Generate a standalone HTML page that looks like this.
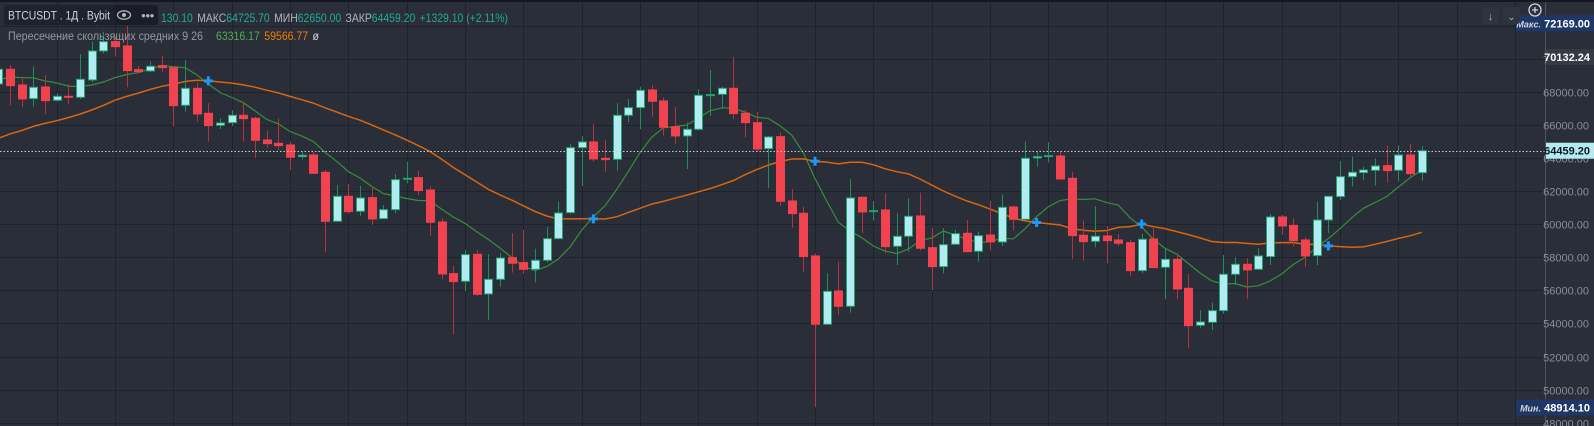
<!DOCTYPE html>
<html><head><meta charset="utf-8"><style>
html,body{margin:0;padding:0;background:#2a2e39;overflow:hidden}
svg{display:block}
text{font-family:"Liberation Sans","DejaVu Sans",sans-serif}
</style></head><body>
<svg id="chart" width="1594" height="426" xmlns="http://www.w3.org/2000/svg">
<rect x="0" y="0" width="1594" height="426" fill="#2a2e39"/>
<g id="grid"></g>
<g id="mas"></g>
<g id="candles"></g>
<g id="crosses"></g>
<line id="lastline" x1="0" x2="1545" stroke="#c8cbd3" stroke-width="1" stroke-dasharray="1.5,2"/>
<rect x="0" y="0" width="1594" height="2" fill="#131722"/>
<rect x="1545" y="2" width="49" height="424" fill="#2a2e39"/>
<line x1="1545.5" x2="1545.5" y1="2" y2="426" stroke="#50535e" stroke-width="1"/>
<g id="ticks"></g>
<g id="badges"></g>
<g>
  <rect x="4" y="5" width="154" height="20" rx="3" fill="#1e222d"/>
  <rect x="114" y="5" width="44" height="20" rx="3" fill="#1a1d27"/>
  <text x="8" y="19.5" font-size="11.5" fill="#d1d4dc" textLength="102" lengthAdjust="spacingAndGlyphs">BTCUSDT . 1Д . Bybit</text>
  <g transform="translate(124,15)">
    <ellipse cx="0" cy="0" rx="6.5" ry="4.2" fill="none" stroke="#b2b5be" stroke-width="1.3"/>
    <circle cx="0" cy="0" r="2" fill="#b2b5be"/>
  </g>
  <text x="141" y="18" font-size="8" fill="#b2b5be" letter-spacing="-0.5">●●●</text>
  <text x="161" y="22" font-size="12" textLength="347" lengthAdjust="spacingAndGlyphs"><tspan fill="#22ab94">130.10</tspan><tspan fill="#b2b5be" dx="5">МАКС</tspan><tspan fill="#22ab94">64725.70</tspan><tspan fill="#b2b5be" dx="5">МИН</tspan><tspan fill="#22ab94">62650.00</tspan><tspan fill="#b2b5be" dx="5">ЗАКР</tspan><tspan fill="#22ab94">64459.20</tspan><tspan fill="#22ab94" dx="5">+1329.10 (+2.11%)</tspan></text>
  <text x="8" y="40" font-size="12" fill="#9598a1" textLength="195" lengthAdjust="spacingAndGlyphs">Пересечение скользящих средних 9 26</text>
  <text x="216" y="40" font-size="12" textLength="103" lengthAdjust="spacingAndGlyphs"><tspan fill="#4caf50">63316.17</tspan><tspan fill="#f57c00" dx="5">59566.77</tspan><tspan fill="#d1d4dc" dx="5">ø</tspan></text>
</g>
<g>
  <rect x="1482" y="7" width="17" height="17" rx="3" fill="#2f333e"/>
  <text x="1490.5" y="20" font-size="11" fill="#b2b5be" text-anchor="middle">↓</text>
  <rect x="1503" y="7" width="17" height="17" rx="3" fill="#2f333e"/>
  <text x="1511.5" y="20" font-size="10" fill="#b2b5be" text-anchor="middle">⌄</text>
  <circle cx="1535" cy="10" r="6" fill="none" stroke="#d1d4dc" stroke-width="1.3"/>
  <path d="M1535 7v6M1532 10h6" stroke="#d1d4dc" stroke-width="1.3"/>
</g>
</svg>
<script>
const history = [61500,62200,61800,62800,63500,62900,63200,64100,63800,62600,63300,64000,63900,64500,63700,64200,64820,66800,67900,68400,69200,68800,69500,69100,69580];
const opens = [68501,69389,68440,67613,68319,67512,67754,67693,68743,70498,71063,70801,69368,69288,69611,69489,67209,68238,66725,65998,66160,66604,66422,65110,64909,64808,64101,64202,63153,60186,61700,60792,61619,60348,60893,62729,62830,62083,60146,57018,56554,58189,55787,56675,57987,57684,57280,57825,59137,60711,64646,64989,64000,63940,66604,67068,68137,67471,65918,65353,65756,67815,67875,68238,66725,66160,64585,65312,61417,60671,58088,53951,55969,55040,61639,60772,60873,58673,59279,60509,58592,57442,58794,59460,58370,59359,58935,61054,60307,64021,64101,64142,62790,59339,58975,59299,59056,58895,57200,59117,57402,57886,56130,53890,54072,54778,56978,57583,57280,58047,60449,59944,59056,58108,60267,61680,62890,63133,63274,63557,63274,64202,63130];
const highs = [69550,69651,68945,69550,69046,67936,68481,70317,71063,71669,71366,72012,69590,69853,70196,69590,69954,68541,67330,66422,66927,67330,66523,65675,66422,65009,64404,64404,63294,62386,62447,62326,62184,61175,63052,63799,63234,62285,60368,57482,58451,58451,58209,58249,59460,59662,58532,59843,61377,64868,65353,66079,65110,67330,67593,68339,68440,67673,67088,66160,68178,69348,68339,70115,66927,66826,65353,65554,62144,61074,58249,57038,57745,62729,61679,61417,61882,60671,61579,61922,59803,59763,59662,60267,59561,61417,61821,61115,65009,64404,64969,64404,63193,60227,61115,59904,59420,59056,59420,59763,58552,58249,56998,54819,55262,58148,58007,57946,58552,60630,60570,60368,59218,61377,61720,63839,64101,63496,64000,64767,64767,64868,64726];
const lows = [68440,67229,67088,67128,66664,67431,67270,67593,68602,70357,70155,68299,69146,69207,69207,65918,66826,66220,65009,65776,65958,65009,64000,64646,64505,63294,63940,63050,58310,60166,60630,60509,59965,60328,60671,62487,61781,59319,56695,53346,55969,55666,54213,56231,57079,56998,56473,57684,59097,60630,62326,63799,63193,63254,66180,65756,66523,65373,64868,63355,65675,66563,67028,66362,65272,64465,62184,61135,59803,57139,48926,53911,54516,54657,59460,60227,58249,57543,58350,58411,56030,57038,58754,58310,57745,58411,58693,59622,60267,63496,63738,62700,57886,57805,58612,57644,58693,56877,57038,57341,55464,55464,52498,53709,53608,54576,56332,55484,57240,57543,59359,58653,57442,57543,59460,61478,62285,62689,62346,62527,62588,62890,62650];
const closes = [69389,68400,67593,68299,67492,67754,67714,68783,70498,71063,70761,69308,69247,69570,69489,67189,68238,66684,65978,66139,66604,66402,65090,64888,64767,64061,64182,63092,60186,61700,60772,61599,60328,60893,62709,62790,62043,60126,56998,56534,58169,55767,56675,57967,57644,57280,57825,59137,60691,64646,64989,63960,63920,66604,67068,68117,67451,65877,65353,65756,67815,67855,68238,66705,66160,64565,65292,61397,60651,58047,53951,55949,55040,61599,60752,60832,58653,59279,60489,58552,57442,58774,59440,58350,59319,58935,61034,60307,64000,64101,64162,62749,59319,58955,59279,59016,58855,57200,59097,57382,57886,56090,53870,54092,54778,56978,57583,57240,58088,60449,59904,59016,58088,60267,61700,62890,63153,63294,63536,63254,64202,63072,64459.2];
const tickLabels = ["72000.00","70000.00","68000.00","66000.00","64000.00","62000.00","60000.00","58000.00","56000.00","54000.00","52000.00","50000.00","48000.00"];
const tickValues = [72000,70000,68000,66000,64000,62000,60000,58000,56000,54000,52000,50000,48000];
const badgeValues = [72169.00,70132.24,64459.20,48914.10];
const badgeLabels = ["72169.00","70132.24","64459.20","48914.10"];
const badgeTags = ["Макс.","","","Мин."];

const NS="http://www.w3.org/2000/svg";
const X0=-1.67, STEP=11.667, PLOT_R=1545;
const xAt=i=>X0+STEP*i;
const yAt=p=>158.3+(64000-p)*0.016517;
function mk(tag,attrs,parent){const e=document.createElementNS(NS,tag);for(const k in attrs)e.setAttribute(k,attrs[k]);parent.appendChild(e);return e;}
const grid=document.getElementById('grid');
for(let k=0;k<27;k++){
  const x=Math.round(xAt(5)+STEP*5*(k-1))+0.5;
  if(x<0||x>PLOT_R)continue;
  const l=mk('line',{x1:x,x2:x,y1:2,y2:426,stroke:'#1e222d','stroke-width':1},grid);
  
  
}
const ticks=document.getElementById('ticks');
tickValues.forEach((v,i)=>{
  const y=Math.round(yAt(v))+0.5;
  const l=mk('line',{x1:0,x2:PLOT_R,y1:y,y2:y,stroke:'#1e222d','stroke-width':1},grid);
  
  
  const t=mk('text',{x:1589,y:y+4,'font-size':'11','text-anchor':'end',fill:'#8a8d96'},ticks);
  t.textContent=tickLabels[i];
  
  
});
const all=history.concat(closes);
const H=history.length;
function sma(n,i){let s=0;for(let k=i-n+1;k<=i;k++)s+=all[k];return s/n;}
const ma9=[],ma26=[];
for(let i=0;i<closes.length;i++){ma9.push(sma(9,H+i));ma26.push(sma(26,H+i));}
const mas=document.getElementById('mas');
const p9=mk('polyline',{points:ma9.map((v,i)=>xAt(i).toFixed(1)+','+yAt(v).toFixed(1)).join(' '),fill:'none',stroke:'#388e3c','stroke-width':1.2},mas);


const p26=mk('polyline',{points:ma26.map((v,i)=>xAt(i).toFixed(1)+','+yAt(v).toFixed(1)).join(' '),fill:'none',stroke:'#d9650f','stroke-width':1.5},mas);


const cg=document.getElementById('candles');
closes.forEach((c,i)=>{
  const o=opens[i],h=highs[i],l=lows[i],up=c>=o;
  const x=xAt(i), cx=Math.round(x)+0.5;
  const g=mk('g',{},cg);
  
  
  mk('line',{x1:cx,x2:cx,y1:yAt(h),y2:yAt(l),stroke:up?'#1f8f5a':'#b5343c','stroke-width':1},g);
  const top=yAt(Math.max(o,c)),bot=yAt(Math.min(o,c));
  mk('rect',{x:cx-4,y:top,width:8,height:Math.max(1,bot-top),fill:up?'#b2ebf2':'#f0434f',stroke:up?'#1fa572':'#f0434f','stroke-width':1},g);
});
const cr=document.getElementById('crosses');
for(let i=1;i<closes.length;i++){
  const a=ma9[i-1]-ma26[i-1],b=ma9[i]-ma26[i];
  if((a<0)!==(b<0)){
    const x=xAt(i),y=yAt(ma26[i]);
    const p=mk('path',{d:`M${x-4.5} ${y}h9M${x} ${y-4.5}v9`,stroke:'#2196f3','stroke-width':3},cr);
    
    
  }
}
const ll=document.getElementById('lastline');
const ly=Math.round(yAt(closes[closes.length-1]))+0.5;
ll.setAttribute('y1',ly);ll.setAttribute('y2',ly);
const bg=document.getElementById('badges');
const styles=[{fill:'#1e3766',tc:'#ffffff'},{fill:'#363a45',tc:'#ffffff'},{fill:'#b2ebf2',tc:'#131722'},{fill:'#1e3766',tc:'#ffffff'}];
badgeValues.forEach((v,i)=>{
  const y=yAt(v);
  const g=mk('g',{},bg);
  
  
  if(badgeTags[i]){
    mk('rect',{x:1516,y:y-8,width:78,height:16,fill:styles[i].fill},g);
    const t=mk('text',{x:1541,y:y+4,'font-size':'9','font-style':'italic','font-weight':'bold','text-anchor':'end',fill:'#d1d4dc'},g);
    t.textContent=badgeTags[i];
  } else {
    mk('rect',{x:1546,y:y-8,width:48,height:16,fill:styles[i].fill},g);
  }
  const t=mk('text',{x:1590,y:y+4,'font-size':'11','font-weight':'bold','text-anchor':'end',fill:styles[i].tc},g);
  t.textContent=badgeLabels[i];
});
</script>
</body></html>
